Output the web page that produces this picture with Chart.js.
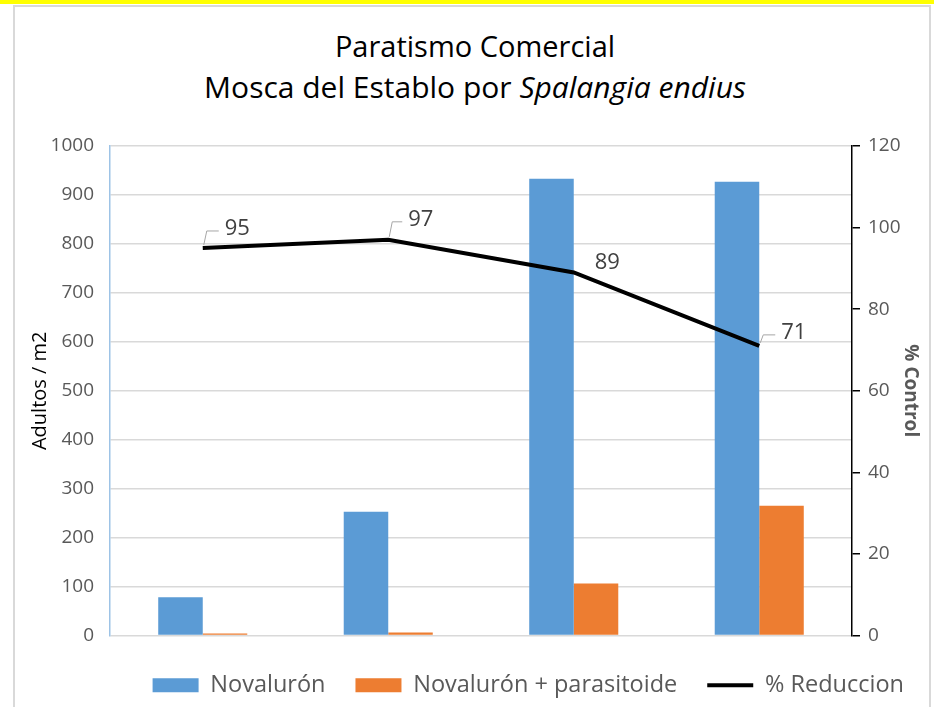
<!DOCTYPE html>
<html>
<head>
<meta charset="utf-8">
<script src="https://cdn.jsdelivr.net/npm/chart.js@4.4.1/dist/chart.umd.min.js"></script>
<style>
  html,body{margin:0;padding:0;background:#fff;}
  #wrap{position:relative;width:934px;height:707px;overflow:hidden;}
  #topbar{position:absolute;left:0;top:0;width:934px;height:4px;background:#ffff00;}
  #frame{position:absolute;left:13px;top:5px;width:918px;height:720px;border:2px solid #d9d9d9;box-sizing:border-box;}
  #title{position:absolute;left:8px;width:934px;top:25px;text-align:center;font-family:"Open Sans",sans-serif;font-size:30px;line-height:41px;color:#000;}
  #title .l1{font-size:29px;}
  canvas{position:absolute;left:0;top:0;}
</style>
</head>
<body>
<div id="wrap">
  <div id="topbar"></div>
  <div id="frame"></div>
  <div id="title"><span class="l1">Paratismo Comercial</span><br>Mosca del Establo por <i>Spalangia endius</i></div>
  <canvas id="chart-1" width="934" height="707"></canvas>
</div>
<script>
const categorias=['1','2','3','4'];
const novaluron=[78,253,933,927];
const novaluronParasitoide=[4,6,106,265];
const reduccion=[95,97,89,71];
const ticksAdultos=[0,100,200,300,400,500,600,700,800,900,1000];
const ticksControl=[0,20,40,60,80,100,120];

// etiquetas de la linea con su pequena guia
const etiquetas={
  id:'etiquetas',
  afterDatasetsDraw(chart,args,opts){
    const meta=chart.getDatasetMeta(2);
    const ctx=chart.ctx;
    ctx.save();
    meta.data.forEach((pt,i)=>{
      const off=opts.offsets[i];
      const x=pt.x,y=pt.y;
      if(off.guia){
        ctx.strokeStyle='#a6a6a6';
        ctx.lineWidth=1;
        ctx.beginPath();
        ctx.moveTo(x+1,y-3);
        ctx.lineTo(x+4,y+off.dy+2);
        ctx.lineTo(x+off.dx-6,y+off.dy+2);
        ctx.stroke();
      }
      ctx.fillStyle='#404040';
      ctx.font='22px "Open Sans", sans-serif';
      ctx.textAlign='left';
      ctx.textBaseline='middle';
      ctx.fillText(String(reduccion[i]),x+off.dx,y+off.dy);
    });
    ctx.restore();
  }
};

const fuente='"Open Sans", sans-serif';
const ctx=document.getElementById('chart-1');
new Chart(ctx.getContext('2d'),{
  type:'bar',
  data:{
    labels:categorias,
    datasets:[
      {label:'Novalurón',data:novaluron,backgroundColor:'#5b9bd5',yAxisID:'y',order:2,categoryPercentage:0.48,barPercentage:1},
      {label:'Novalurón + parasitoide',data:novaluronParasitoide,backgroundColor:'#ed7d31',yAxisID:'y',order:2,categoryPercentage:0.48,barPercentage:1},
      {type:'line',label:'% Reduccion',data:reduccion,borderColor:'#000',backgroundColor:'#000',borderWidth:4,pointRadius:0,tension:0,yAxisID:'y1',order:1}
    ]
  },
  options:{
    responsive:false,
    animation:false,
    layout:{padding:{top:146,bottom:0,left:0,right:0}},
    plugins:{
      title:{display:false},
      tooltip:{enabled:false},
      legend:{
        position:'bottom',
        align:'end',
        labels:{
          usePointStyle:true,
          pointStyleWidth:46,
          boxHeight:14,
          padding:30,
          color:'#595959',
          font:{family:fuente,size:23.5},
          sort:(a,b)=>a.datasetIndex-b.datasetIndex,
          generateLabels(chart){
            const items=Chart.defaults.plugins.legend.labels.generateLabels(chart);
            items.forEach(it=>{
              it.pointStyle=it.datasetIndex===2?'line':'rect';
              if(it.datasetIndex===2){it.lineWidth=4;it.strokeStyle='#000';}
              else{it.lineWidth=0;}
            });
            return items;
          }
        }
      },
      etiquetas:{
        offsets:[{dx:22,dy:-19,guia:true},{dx:20,dy:-20,guia:true},{dx:21,dy:-10,guia:false},{dx:22,dy:-13,guia:true}]
      }
    },
    scales:{
      x:{
        ticks:{display:false},
        grid:{display:false},
        border:{display:false},
        afterFit(s){s.height=8;}
      },
      y:{
        position:'left',
        min:0,max:1000,
        afterBuildTicks(s){s.ticks=ticksAdultos.map(v=>({value:v}));},
        ticks:{color:'#595959',font:{family:fuente,size:19},padding:16,callback:v=>String(v)},
        grid:{color:'#d9d9d9',lineWidth:1.5,drawTicks:false},
        border:{color:'#9dc3e6',width:1.5},
        title:{display:true,text:'Adultos / m2',color:'#000',font:{family:fuente,size:20},padding:{top:28,bottom:0}},
        afterFit(s){s.width=110;}
      },
      y1:{
        position:'right',
        min:0,max:120,
        afterBuildTicks(s){s.ticks=ticksControl.map(v=>({value:v}));},
        ticks:{color:'#595959',font:{family:fuente,size:19},padding:8,callback:v=>String(v)},
        grid:{drawOnChartArea:false,drawTicks:true,tickLength:8,color:'#000',lineWidth:1.5},
        border:{color:'#000',width:1.5},
        title:{display:true,text:'% Control',color:'#595959',font:{family:fuente,size:19,weight:'bold'},padding:{top:12,bottom:0}},
        afterFit(s){s.width=82;}
      }
    }
  },
  plugins:[etiquetas]
});
</script>
</body>
</html>
